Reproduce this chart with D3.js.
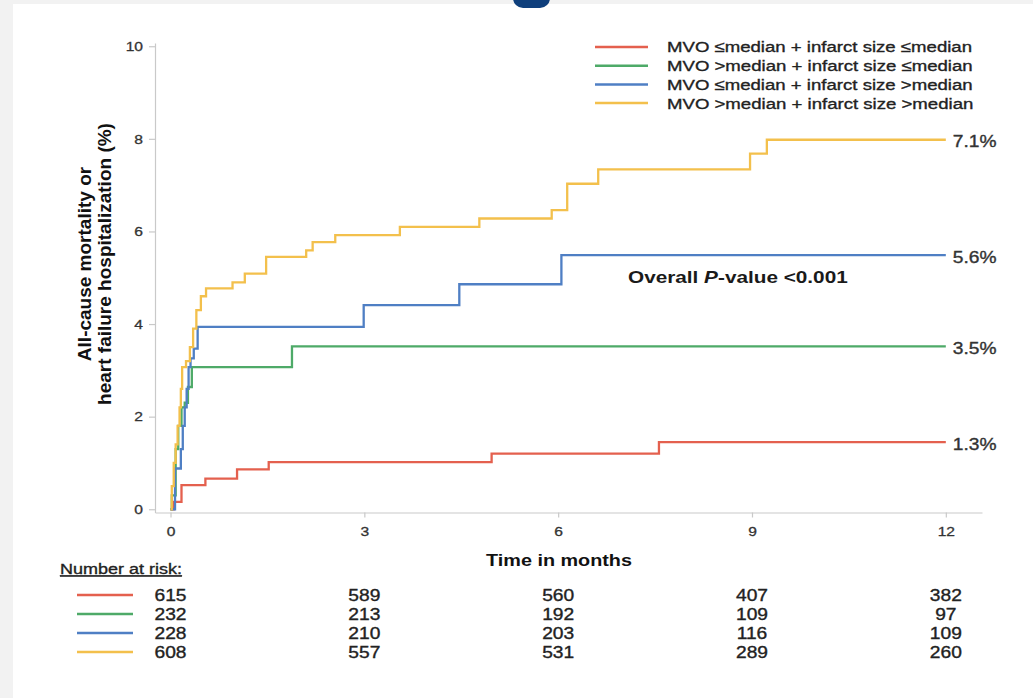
<!DOCTYPE html>
<html>
<head>
<meta charset="utf-8">
<script src="https://cdn.jsdelivr.net/npm/d3@7"></script>
<style>
  html, body { margin: 0; padding: 0; background: #f2f2f2; }
  svg { display: block; }
  text { font-family: "Liberation Sans", Arial, Helvetica, sans-serif; }
</style>
</head>
<body>
<script>
// Cumulative incidence of all-cause mortality or heart failure hospitalization
// by MVO / infarct size group (Kaplan-Meier style step curves).

const groupLabels = [
  "MVO \u2264median + infarct size \u2264median",
  "MVO >median + infarct size \u2264median",
  "MVO \u2264median + infarct size >median",
  "MVO >median + infarct size >median"
];

// event times (months) and cumulative incidence (%) after each step
const timesRed    = [0, 0.05, 0.17, 0.54, 1.03, 1.52, 4.97, 7.56];
const valuesRed   = [0, 0.16, 0.52, 0.66, 0.86, 1.02, 1.20, 1.45];

const timesGreen  = [0, 0.02, 0.08, 0.12, 0.17, 0.22, 0.27, 0.33, 1.88];
const valuesGreen = [0, 0.30, 1.30, 1.80, 2.20, 2.30, 2.64, 3.07, 3.52];

const timesBlue   = [0, 0.07, 0.16, 0.19, 0.22, 0.25, 0.28, 0.31, 0.36, 0.42, 2.99, 4.47, 6.05];
const valuesBlue  = [0, 0.88, 1.30, 1.80, 2.20, 2.60, 3.07, 3.26, 3.47, 3.94, 4.41, 4.86, 5.49];

const timesYellow  = [0, 0.02, 0.05, 0.08, 0.11, 0.14, 0.16, 0.18, 0.24, 0.30, 0.35, 0.40, 0.47, 0.55,
                      0.96, 1.15, 1.48, 2.10, 2.20, 2.55, 3.55, 4.78, 5.90, 6.14, 6.62, 8.97, 9.23];
const valuesYellow = [0, 0.50, 1.00, 1.40, 1.80, 2.20, 2.60, 3.07, 3.20, 3.50, 3.90, 4.30, 4.60, 4.77,
                      4.90, 5.09, 5.45, 5.59, 5.77, 5.92, 6.10, 6.28, 6.46, 7.03, 7.34, 7.68, 7.98];

const followUpEnd = 12;
const endLabels = ["1.3%", "3.5%", "5.6%", "7.1%"];

const xTicks = [0, 3, 6, 9, 12];
const yTicks = [0, 2, 4, 6, 8, 10];

// number at risk at each x tick
const atRiskRed    = [615, 589, 560, 407, 382];
const atRiskGreen  = [232, 213, 192, 109, 97];
const atRiskBlue   = [228, 210, 203, 116, 109];
const atRiskYellow = [608, 557, 531, 289, 260];

const colors = ["#e4604e", "#4eaa68", "#4f7fc4", "#f3c04c"];

const series = [
  { times: timesRed,    values: valuesRed,    risk: atRiskRed,    label: endLabels[0] },
  { times: timesGreen,  values: valuesGreen,  risk: atRiskGreen,  label: endLabels[1] },
  { times: timesBlue,   values: valuesBlue,   risk: atRiskBlue,   label: endLabels[2] },
  { times: timesYellow, values: valuesYellow, risk: atRiskYellow, label: endLabels[3] }
];

const W = 1033, H = 698;
const SX = 1.2;   // horizontal stretch of lettering

const svg = d3.select("body").append("svg").attr("width", W).attr("height", H);

// card
svg.append("rect").attr("x", 13).attr("y", 4).attr("width", W - 13).attr("height", H - 4).attr("fill", "#ffffff");
svg.append("rect").attr("x", 513).attr("y", -14).attr("width", 37).attr("height", 22).attr("rx", 10).attr("fill", "#0f3f7c");

const x = d3.scaleLinear().domain([-0.24, 12.56]).range([155, 982]);
const y = d3.scaleLinear().domain([-0.07, 10.07]).range([512.5, 43]);

function label(parent, px, py, str, size, opts = {}) {
  const fill = opts.fill || "#222";
  return parent.append("text")
    .attr("transform", `translate(${px},${py}) scale(${SX},1)`)
    .attr("dy", "0.35em")
    .attr("font-size", size)
    .attr("font-weight", opts.bold ? "bold" : null)
    .attr("text-anchor", opts.anchor || "start")
    .attr("fill", fill)
    .attr("stroke", opts.bold ? null : fill)
    .attr("stroke-width", opts.bold ? null : 0.35)
    .text(str);
}

// axes
const axisColor = "#c9c9c9";
const gy = svg.append("g").attr("transform", `translate(${x.range()[0]},0)`)
  .call(d3.axisLeft(y).tickValues(yTicks).tickSize(6).tickPadding(6).tickSizeOuter(0));
const gx = svg.append("g").attr("transform", `translate(0,${y.range()[0]})`)
  .call(d3.axisBottom(x).tickValues(xTicks).tickSize(5).tickPadding(9).tickSizeOuter(0));
[gx, gy].forEach(g => {
  g.select(".domain").attr("stroke", axisColor).attr("stroke-width", 1.2);
  g.selectAll(".tick line").attr("stroke", axisColor).attr("stroke-width", 1.2);
  g.selectAll(".tick text").attr("font-size", 13).attr("fill", "#333")
    .attr("stroke", "#333").attr("stroke-width", 0.3)
    .attr("font-family", "Liberation Sans, Arial, sans-serif");
});
gy.selectAll(".tick text").attr("transform", `scale(${SX},1)`).attr("x", -12 / SX);
gx.selectAll(".tick text").attr("transform", `scale(${SX},1)`);

// curves
const line = d3.line().x(d => x(d[0])).y(d => y(d[1])).curve(d3.curveStepAfter);
series.forEach((s, i) => {
  const pts = s.times.map((t, k) => [t, s.values[k]]);
  pts.push([followUpEnd, s.values[s.values.length - 1]]);
  svg.append("path").datum(pts)
    .attr("d", line)
    .attr("fill", "none")
    .attr("stroke", colors[i])
    .attr("stroke-width", 2.3)
    .attr("stroke-linejoin", "miter");
});

// end labels
series.forEach((s, i) => {
  label(svg, x(followUpEnd) + 7, y(s.values[s.values.length - 1]) + 2, s.label, 16, { fill: "#333" });
});

// p-value note
const pv = svg.append("text")
  .attr("transform", `translate(628,277) scale(${SX},1)`)
  .attr("dy", "0.35em").attr("font-size", 17.3).attr("font-weight", "bold").attr("fill", "#1a1a1a");
pv.append("tspan").text("Overall ");
pv.append("tspan").attr("font-style", "italic").text("P");
pv.append("tspan").text("-value <0.001");

// legend
const legend = svg.append("g");
groupLabels.forEach((g, i) => {
  const ly = 47 + i * 18.7;
  legend.append("line").attr("x1", 595).attr("x2", 648).attr("y1", ly).attr("y2", ly)
    .attr("stroke", colors[i]).attr("stroke-width", 2.5);
  label(legend, 667, ly, g, 15.5, { fill: "#222" });
});

// axis titles
label(svg, 559, 560, "Time in months", 16.5, { bold: true, anchor: "middle", fill: "#111" });
const yTitle = svg.append("text")
  .attr("transform", `translate(0,264) rotate(-90)`)
  .attr("text-anchor", "middle").attr("font-size", 19).attr("font-weight", "bold").attr("fill", "#111");
yTitle.append("tspan").attr("x", 0).attr("y", 91).text("All-cause mortality or");
yTitle.append("tspan").attr("x", 0).attr("y", 111).text("heart failure hospitalization (%)");

// number at risk table
label(svg, 60, 569, "Number at risk:", 15, { fill: "#222" }).attr("text-decoration", "underline");
series.forEach((s, i) => {
  const ry = 595 + i * 19;
  svg.append("line").attr("x1", 77).attr("x2", 133).attr("y1", ry).attr("y2", ry)
    .attr("stroke", colors[i]).attr("stroke-width", 2.5);
  s.risk.forEach((n, k) => {
    label(svg, x(xTicks[k]), ry, String(n), 16, { anchor: "middle", fill: "#222" });
  });
});
</script>
</body>
</html>
